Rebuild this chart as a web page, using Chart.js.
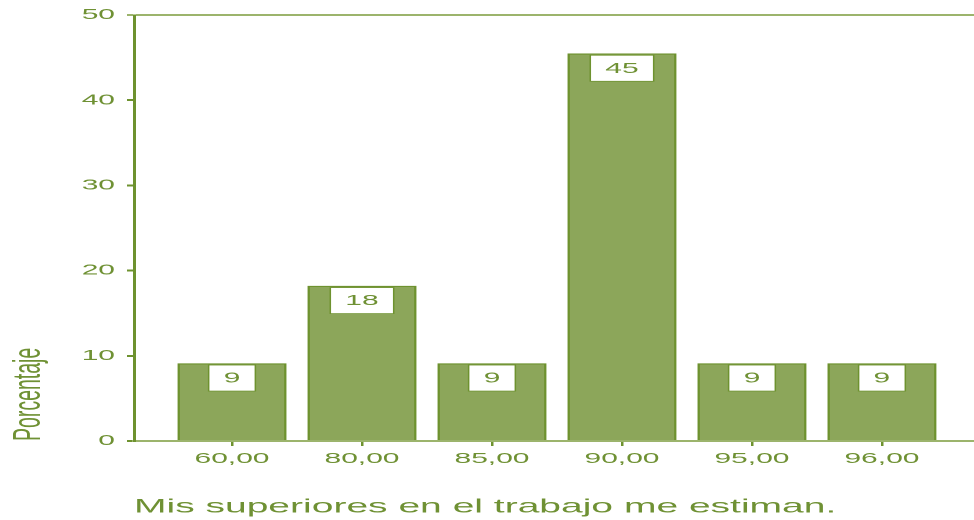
<!DOCTYPE html>
<html>
<head>
<meta charset="utf-8">
<script src="https://cdn.jsdelivr.net/npm/chart.js@4.4.1/dist/chart.umd.min.js"></script>
<style>
  html, body { margin: 0; padding: 0; background: #ffffff; }
  #c { display: block; width: 974px; height: 520px; }
</style>
</head>
<body>
<canvas id="c" width="487" height="520" style="width:974px;height:520px"></canvas>
<script>
// ---- data ----
const categories = ['60,00', '80,00', '85,00', '90,00', '95,00', '96,00'];
const percentages = [9.09, 18.18, 9.09, 45.45, 9.09, 9.09];
const yTicks = [0, 10, 20, 30, 40, 50];
const xTitle = 'Mis superiores en el trabajo me estiman.';
const yTitle = 'Porcentaje';

// ---- styles ----
const TEXT = '#6f9134';
const DARK = '#6e922f';
const LIGHT = '#9cb46c';
const FILL = '#8ca65a';
const FONT = "'Liberation Sans', Arial, sans-serif";

const barLabels = {
  id: 'barLabels',
  afterDatasetsDraw(chart) {
    const ctx = chart.ctx;
    const meta = chart.getDatasetMeta(0);
    ctx.save();
    ctx.font = '15px ' + FONT;
    meta.data.forEach((bar, i) => {
      const txt = String(Math.round(percentages[i]));
      const tw = ctx.measureText(txt).width;
      const w = tw + 15;
      const h = 26;
      const x = bar.x - w / 2;
      const y = bar.y + 1.5;
      ctx.fillStyle = '#ffffff';
      ctx.fillRect(x, y, w, h);
      ctx.strokeStyle = DARK;
      ctx.lineWidth = 0.75;
      ctx.strokeRect(x, y, w, h);
      ctx.fillStyle = TEXT;
      ctx.textAlign = 'center';
      ctx.textBaseline = 'middle';
      ctx.fillText(txt, bar.x, y + h / 2 + 0.5);
    });
    ctx.restore();
  }
};

new Chart(document.getElementById('c'), {
  type: 'bar',
  data: {
    datasets: [{
      data: percentages.map((v, i) => ({ x: i, y: v })),
      backgroundColor: FILL,
      borderColor: DARK,
      borderWidth: 1.25,
      borderSkipped: 'start',
      barThickness: 54
    }]
  },
  plugins: [barLabels],
  options: {
    responsive: false,
    devicePixelRatio: 2,
    animation: false,
    layout: { padding: { top: 13, left: 0, right: 0, bottom: 0 } },
    plugins: {
      legend: { display: false },
      tooltip: { enabled: false }
    },
    scales: {
      x: {
        type: 'linear',
        offset: false,
        min: -0.754,
        max: 5.708,
        afterBuildTicks: (scale) => { scale.ticks = categories.map((_, i) => ({ value: i })); },
        afterFit: (scale) => { scale.height = 79; },
        ticks: {
          color: TEXT,
          font: { family: FONT, size: 15 },
          padding: 4,
          autoSkip: false,
          maxRotation: 0,
          callback: (value) => categories[value] ?? ''
        },
        grid: {
          offset: false,
          drawOnChartArea: false,
          drawTicks: true,
          tickLength: 5,
          color: DARK,
          lineWidth: 1.25
        },
        border: { display: true, color: LIGHT, width: 2 },
        title: {
          display: true,
          text: xTitle,
          align: 'start',
          color: TEXT,
          font: { family: FONT, size: 19.5 },
          padding: { top: 0, bottom: 1 }
        }
      },
      y: {
        min: 0,
        max: 50,
        afterBuildTicks: (scale) => { scale.ticks = yTicks.map(v => ({ value: v })); },
        afterFit: (scale) => { scale.width = 67; },
        ticks: {
          color: TEXT,
          font: { family: FONT, size: 15 },
          padding: 6
        },
        grid: {
          drawOnChartArea: true,
          drawTicks: true,
          tickLength: 3.5,
          color: (c) => (c.tick && c.tick.value === 50 ? LIGHT : 'rgba(0,0,0,0)'),
          tickColor: (c) => (c.tick && c.tick.value === 50 ? LIGHT : DARK),
          lineWidth: 2
        },
        border: { display: true, color: DARK, width: 1.5 },
        title: {
          display: true,
          text: yTitle,
          align: 'start',
          color: TEXT,
          font: { family: FONT, size: 19.5 },
          padding: { top: 3, bottom: 0 }
        }
      }
    }
  }
});
</script>
</body>
</html>
